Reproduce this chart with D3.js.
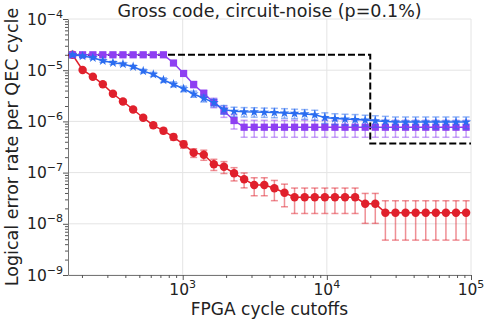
<!DOCTYPE html>
<html>
<head>
<meta charset="utf-8">
<script src="https://cdn.jsdelivr.net/npm/d3@7"></script>
<style>
  body { margin: 0; background: #fff; }
  svg { font-family: "DejaVu Sans", sans-serif; }
</style>
</head>
<body>
<div id="chart"></div>
<script>
// FPGA cycle cutoffs (x)
var cutoffs = [172, 202, 238, 279, 328, 385, 453, 532, 625, 735, 863, 1014, 1191, 1400, 1644, 1932, 2270, 2667, 3133, 3681,
               4325, 5082, 5970, 7015, 8241, 9683, 11376, 13366, 15704, 18450, 21677, 25468, 29923, 35156, 41305, 48529, 57016, 66988, 78704, 92470];

// red circles
var redRate = [2.0e-5, 1.01e-5, 7.47e-6, 5.33e-6, 3.46e-6, 2.45e-6, 1.71e-6, 1.18e-6, 8.39e-7, 6.58e-7,
               4.95e-7, 3.57e-7, 2.45e-7, 2.24e-7, 1.46e-7, 1.30e-7, 9.68e-8, 7.43e-8, 5.73e-8, 5.73e-8,
               4.93e-8, 4.05e-8, 3.29e-8, 3.29e-8, 3.29e-8, 3.29e-8, 3.29e-8, 3.29e-8, 3.29e-8, 2.47e-8,
               2.47e-8, 1.65e-8, 1.65e-8, 1.65e-8, 1.65e-8, 1.65e-8, 1.65e-8, 1.65e-8, 1.65e-8, 1.65e-8];
var redErr = [4.2e-7, 3.0e-7, 2.6e-7, 2.2e-7, 1.8e-7, 1.5e-7, 1.2e-7, 1.0e-7, 8.7e-8, 7.7e-8,
              6.7e-8, 5.7e-8, 4.7e-8, 5.0e-8, 3.6e-8, 3.4e-8, 2.8e-8, 2.4e-8, 2.2e-8, 2.2e-8,
              2.1e-8, 1.9e-8, 1.7e-8, 1.7e-8, 1.7e-8, 1.7e-8, 1.7e-8, 1.7e-8, 1.7e-8, 1.45e-8,
              1.45e-8, 1.17e-8, 1.17e-8, 1.17e-8, 1.17e-8, 1.17e-8, 1.17e-8, 1.17e-8, 1.17e-8, 1.17e-8];

// purple squares
var purpleRate = [2.0e-5, 2.0e-5, 2.0e-5, 2.0e-5, 2.0e-5, 2.0e-5, 2.0e-5, 2.0e-5, 2.0e-5, 2.0e-5,
                  1.38e-5, 8.63e-6, 5.26e-6, 3.51e-6, 2.34e-6, 1.60e-6, 1.04e-6, 7.7e-7, 7.7e-7, 7.7e-7,
                  7.7e-7, 7.7e-7, 7.7e-7, 7.7e-7, 7.7e-7, 7.7e-7, 7.7e-7, 7.7e-7, 7.7e-7, 7.7e-7,
                  7.7e-7, 7.7e-7, 7.7e-7, 7.7e-7, 7.7e-7, 7.7e-7, 7.7e-7, 7.7e-7, 7.7e-7, 7.7e-7];
var purpleErr = [1.4e-6, 1.4e-6, 1.4e-6, 1.4e-6, 1.4e-6, 1.4e-6, 1.4e-6, 1.4e-6, 1.4e-6, 1.4e-6,
                 1.2e-6, 9.4e-7, 7.3e-7, 6.0e-7, 4.9e-7, 4.0e-7, 3.3e-7, 2.8e-7, 2.8e-7, 2.8e-7,
                 2.8e-7, 2.8e-7, 2.8e-7, 2.8e-7, 2.8e-7, 2.8e-7, 2.8e-7, 2.8e-7, 2.8e-7, 2.8e-7,
                 2.8e-7, 2.8e-7, 2.8e-7, 2.8e-7, 2.8e-7, 2.8e-7, 2.8e-7, 2.8e-7, 2.8e-7, 2.8e-7];

// blue stars
var blueRate = [2.0e-5, 1.89e-5, 1.75e-5, 1.53e-5, 1.40e-5, 1.32e-5, 1.17e-5, 9.64e-6, 8.31e-6, 6.44e-6,
                5.31e-6, 4.34e-6, 3.43e-6, 2.83e-6, 2.32e-6, 1.71e-6, 1.57e-6, 1.54e-6, 1.53e-6, 1.51e-6,
                1.49e-6, 1.46e-6, 1.43e-6, 1.40e-6, 1.35e-6, 1.19e-6, 1.14e-6, 1.11e-6, 1.09e-6, 1.06e-6,
                1.03e-6, 1.00e-6, 9.7e-7, 9.7e-7, 9.7e-7, 9.7e-7, 9.7e-7, 9.7e-7, 9.7e-7, 9.7e-7];
var blueErr = [1.14e-6, 1.11e-6, 1.07e-6, 1.0e-6, 9.5e-7, 9.3e-7, 8.7e-7, 7.9e-7, 7.4e-7, 6.5e-7,
               5.9e-7, 5.3e-7, 4.7e-7, 4.3e-7, 3.9e-7, 3.3e-7, 3.2e-7, 3.2e-7, 3.2e-7, 3.1e-7,
               3.1e-7, 3.1e-7, 3.0e-7, 3.0e-7, 3.0e-7, 2.8e-7, 2.7e-7, 2.7e-7, 2.7e-7, 2.6e-7,
               2.6e-7, 2.55e-7, 2.5e-7, 2.5e-7, 2.5e-7, 2.5e-7, 2.5e-7, 2.5e-7, 2.5e-7, 2.5e-7];

// dashed black step line
var stepX = [160, 20000, 20000, 100000];
var stepY = [2.0e-5, 2.0e-5, 3.7e-7, 3.7e-7];

var xMajor = [1e3, 1e4, 1e5];
var xMajorExp = ["3", "4", "5"];
var yMajor = [1e-9, 1e-8, 1e-7, 1e-6, 1e-5, 1e-4];
var yMajorExp = ["\u22129", "\u22128", "\u22127", "\u22126", "\u22125", "\u22124"];

var width = 489, height = 320;
var margin = {top: 19, right: 18, bottom: 45, left: 68};
var x0 = margin.left, x1 = width - margin.right, y0 = height - margin.bottom, y1 = margin.top;

var svg = d3.select("#chart").append("svg")
  .attr("width", width).attr("height", height);

var x = d3.scaleLog().domain([160, 1e5]).range([x0, x1]);
var y = d3.scaleLog().domain([1e-9, 1e-4]).range([y0, y1]);

// grid
svg.append("g").selectAll("line").data(xMajor).enter().append("line")
  .attr("x1", function(d) { return x(d); }).attr("x2", function(d) { return x(d); })
  .attr("y1", y0).attr("y2", y1)
  .attr("stroke", "#e4e4e4").attr("stroke-width", 1);
svg.append("g").selectAll("line").data(yMajor).enter().append("line")
  .attr("x1", x0).attr("x2", x1)
  .attr("y1", function(d) { return y(d); }).attr("y2", function(d) { return y(d); })
  .attr("stroke", "#e4e4e4").attr("stroke-width", 1);

// axes
function isPow10(v) { return Math.abs(Math.log10(v) - Math.round(Math.log10(v))) < 1e-9; }
var xMinor = x.ticks().filter(function(v) { return !isPow10(v); });
var yMinor = y.ticks().filter(function(v) { return !isPow10(v); });

var gx = svg.append("g").attr("transform", "translate(0," + y0 + ")");
gx.call(d3.axisBottom(x).tickValues(xMajor).tickSize(5).tickSizeOuter(0).tickFormat(""));
gx.append("g").call(d3.axisBottom(x).tickValues(xMinor).tickSize(3).tickSizeOuter(0).tickFormat(""))
  .select(".domain").remove();
var gy = svg.append("g").attr("transform", "translate(" + x0 + ",0)");
gy.call(d3.axisLeft(y).tickValues(yMajor).tickSize(5).tickSizeOuter(0).tickFormat(""));
gy.append("g").call(d3.axisLeft(y).tickValues(yMinor).tickSize(3).tickSizeOuter(0).tickFormat(""))
  .select(".domain").remove();
svg.selectAll(".domain").attr("stroke", "#777");
svg.selectAll(".tick line").attr("stroke", "#555");

// tick labels with superscripts
xMajor.forEach(function(v, i) {
  var t = svg.append("text").attr("x", x(v)).attr("y", 295)
    .attr("text-anchor", "middle").attr("font-size", 15.5).attr("fill", "#222");
  t.append("tspan").text("10");
  t.append("tspan").attr("dy", -7).attr("font-size", 11).text(xMajorExp[i]);
});
yMajor.forEach(function(v, i) {
  var t = svg.append("text").attr("x", x0 - 5).attr("y", y(v) + 5.5)
    .attr("text-anchor", "end").attr("font-size", 15.5).attr("fill", "#222");
  t.append("tspan").text("10");
  t.append("tspan").attr("dy", -7).attr("font-size", 11).text(yMajorExp[i]);
});

// labels
svg.append("text").attr("x", (x0 + x1) / 2).attr("y", 16.5)
  .attr("text-anchor", "middle").attr("font-size", 17.5).attr("fill", "#222")
  .text("Gross code, circuit-noise (p=0.1%)");
svg.append("text").attr("x", (x0 + x1) / 2).attr("y", 315)
  .attr("text-anchor", "middle").attr("font-size", 17).attr("fill", "#222")
  .text("FPGA cycle cutoffs");
svg.append("text").attr("transform", "translate(17.5," + ((y0 + y1) / 2) + ") rotate(-90)")
  .attr("text-anchor", "middle").attr("font-size", 17.5).attr("fill", "#222")
  .text("Logical error rate per QEC cycle");

// dashed step
var stepData = stepX.map(function(d, i) { return [d, stepY[i]]; });
svg.append("path").datum(stepData)
  .attr("d", d3.line().x(function(d) { return x(d[0]); }).y(function(d) { return y(d[1]); }))
  .attr("fill", "none").attr("stroke", "#000").attr("stroke-width", 2)
  .attr("stroke-dasharray", "7,3");

// series
var series = [
  {rate: redRate, err: redErr, color: "#e0202c", symbol: d3.symbolCircle, size: 56},
  {rate: purpleRate, err: purpleErr, color: "#8e3ff2", symbol: d3.symbolSquare, size: 52},
  {rate: blueRate, err: blueErr, color: "#2a6cf0", symbol: d3.symbolStar, size: 30}
];

series.forEach(function(s) {
  var pts = cutoffs.map(function(c, i) { return {x: c, v: s.rate[i], e: s.err[i]}; });
  var g = svg.append("g");
  // error bars
  var eb = g.append("g").attr("stroke", s.color).attr("stroke-opacity", 0.5).attr("stroke-width", 1.5);
  pts.forEach(function(p) {
    var yt = y(p.v + p.e), yb = y(p.v - p.e), xc = x(p.x);
    eb.append("line").attr("x1", xc).attr("x2", xc).attr("y1", yt).attr("y2", yb);
    eb.append("line").attr("x1", xc - 3.5).attr("x2", xc + 3.5).attr("y1", yt).attr("y2", yt);
    eb.append("line").attr("x1", xc - 3.5).attr("x2", xc + 3.5).attr("y1", yb).attr("y2", yb);
  });
  g.append("path").datum(pts)
    .attr("d", d3.line().x(function(d) { return x(d.x); }).y(function(d) { return y(d.v); }))
    .attr("fill", "none").attr("stroke", s.color).attr("stroke-width", 1.5);
  g.selectAll(".m").data(pts).enter().append("path")
    .attr("transform", function(d) { return "translate(" + x(d.x) + "," + y(d.v) + ")"; })
    .attr("d", d3.symbol().type(s.symbol).size(s.size))
    .attr("fill", s.color);
});
</script>
</body>
</html>
